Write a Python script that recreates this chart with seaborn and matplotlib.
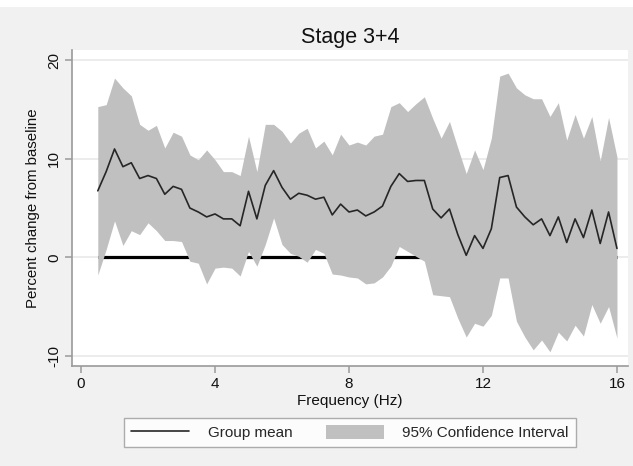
import numpy as np
import pandas as pd
import matplotlib
matplotlib.use("Agg")
import matplotlib.pyplot as plt
from matplotlib.lines import Line2D
from matplotlib.patches import Patch, Rectangle
import seaborn as sns

# Frequency bins (Hz)
freq = [0.5, 0.75, 1.0, 1.25, 1.5, 1.75, 2.0, 2.25, 2.5, 2.75, 3.0, 3.25, 3.5, 3.75,
        4.0, 4.25, 4.5, 4.75, 5.0, 5.25, 5.5, 5.75, 6.0, 6.25, 6.5, 6.75, 7.0, 7.25,
        7.5, 7.75, 8.0, 8.25, 8.5, 8.75, 9.0, 9.25, 9.5, 9.75, 10.0, 10.25, 10.5,
        10.75, 11.0, 11.25, 11.5, 11.75, 12.0, 12.25, 12.5, 12.75, 13.0, 13.25, 13.5,
        13.75, 14.0, 14.25, 14.5, 14.75, 15.0, 15.25, 15.5, 15.75, 16.0]

# Group mean percent change from baseline
group_mean = [6.75, 8.7, 11.0, 9.2, 9.6, 8.0, 8.3, 8.0, 6.4, 7.2, 6.9, 5.0, 4.6, 4.1,
              4.4, 3.9, 3.9, 3.2, 6.7, 3.9, 7.3, 8.8, 7.1, 5.9, 6.5, 6.3, 5.9, 6.1,
              4.3, 5.4, 4.6, 4.8, 4.2, 4.6, 5.2, 7.2, 8.5, 7.7, 7.8, 7.8, 4.9,
              4.0, 4.9, 2.3, 0.2, 2.2, 0.9, 2.9, 8.1, 8.3, 5.1, 4.1, 3.3,
              3.9, 2.2, 4.1, 1.5, 3.9, 2.0, 4.8, 1.4, 4.6, 0.9]

# 95% confidence interval bounds
ci_upper = [15.3, 15.5, 18.2, 17.2, 16.4, 13.5, 12.9, 13.4, 11.1, 12.7, 12.3, 10.4, 9.9, 10.9,
            9.9, 8.7, 8.7, 8.3, 12.3, 8.7, 13.5, 13.5, 12.8, 11.6, 12.6, 13.1, 11.1, 11.8,
            10.4, 12.5, 11.4, 11.7, 11.4, 12.3, 12.5, 15.3, 15.7, 14.8, 15.6, 16.3, 14.1,
            12.1, 13.8, 11.1, 8.5, 10.9, 8.9, 12.1, 18.4, 18.7, 17.2, 16.5, 16.1,
            16.1, 14.3, 15.7, 11.9, 14.5, 12.1, 14.3, 9.8, 14.2, 10.2]
ci_lower = [-1.8, 0.8, 3.7, 1.2, 2.7, 2.3, 3.5, 2.7, 1.7, 1.7, 1.6, -0.4, -0.6, -2.7,
            -1.1, -1.0, -1.1, -1.9, 0.6, -0.9, 1.3, 4.0, 1.3, 0.4, 0.1, -0.5, 0.8, 0.4,
            -1.7, -1.8, -2.0, -2.1, -2.7, -2.6, -2.0, -0.9, 1.1, 0.6, 0.1, -0.4, -3.8,
            -3.9, -4.0, -6.2, -8.1, -6.7, -7.0, -5.9, -2.1, -2.1, -6.5, -8.1, -9.4,
            -8.4, -9.6, -7.6, -8.5, -6.9, -8.0, -4.8, -6.7, -5.0, -8.2]

x_ticks = [0, 4, 8, 12, 16]
y_ticks = [-10, 0, 10, 20]

df = pd.DataFrame({"freq": freq, "mean": group_mean, "lo": ci_lower, "hi": ci_upper})

sns.set_theme(style="white")
plt.rcParams["font.family"] = ["Liberation Sans", "DejaVu Sans"]

bg = "#F1F1F1"
axis_gray = "#9A9A9A"
band_gray = "#C0C0C0"

fig = plt.figure(figsize=(6.33, 4.66), dpi=100, facecolor=bg)
fig.add_artist(Rectangle((0, 1 - 7 / 466), 1, 7 / 466, transform=fig.transFigure,
                         facecolor="white", edgecolor="none", zorder=0))
ax = fig.add_axes([72 / 633, 1 - 366 / 466, (628 - 72) / 633, (366 - 50) / 466])
ax.set_facecolor("white")

# Horizontal grid lines
for yv in y_ticks:
    ax.axhline(yv, color="#EBEBEB", lw=1.3, zorder=0)

# Reference line at zero, drawn beneath the confidence band
ax.plot([df["freq"].min(), df["freq"].max()], [0, 0], color="black", lw=2.3,
        solid_capstyle="butt", zorder=1)

ax.fill_between(df["freq"], df["lo"], df["hi"], color=band_gray, lw=0, zorder=2)
sns.lineplot(data=df, x="freq", y="mean", ax=ax, color="#262626", lw=1.2, zorder=3)

ax.set_xlim(-0.27, 16.33)
ax.set_ylim(-11.04, 21.05)
ax.set_xticks(x_ticks)
ax.set_yticks(y_ticks)
ax.set_xticklabels([str(v) for v in x_ticks], fontsize=11)
ax.set_yticklabels([str(v) for v in y_ticks], fontsize=11, rotation=90, va="center")

for side in ["top", "right"]:
    ax.spines[side].set_visible(False)
for side in ["left", "bottom"]:
    ax.spines[side].set_color(axis_gray)
    ax.spines[side].set_linewidth(1.2)
ax.tick_params(axis="both", direction="out", length=5, width=1.1, color=axis_gray,
               bottom=True, left=True, pad=3, labelcolor="#111111")

ax.set_xlabel("Frequency (Hz)", fontsize=11, labelpad=2, color="#111111")
ax.set_ylabel("Percent change from baseline", fontsize=10.8, labelpad=5, color="#111111")
ax.set_title("Stage 3+4", fontsize=15.5, pad=5, color="#111111")

handles = [Line2D([], [], color="#262626", lw=1.2),
           Patch(facecolor=band_gray, edgecolor="none")]
leg = fig.legend(handles, ["Group mean", "95% Confidence Interval"], ncol=2,
                 loc="center", bbox_to_anchor=(350 / 633, 1 - 432.5 / 466),
                 fontsize=11, frameon=True, fancybox=False, handlelength=3.8,
                 handleheight=1.1, columnspacing=2.2, handletextpad=1.2,
                 borderpad=0.45)
leg.get_frame().set_facecolor("white")
leg.get_frame().set_edgecolor(axis_gray)
leg.get_frame().set_linewidth(1.0)

fig.savefig("out.png", dpi=100, facecolor=bg)
